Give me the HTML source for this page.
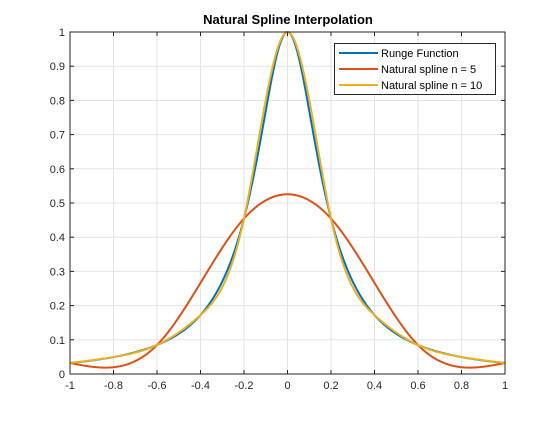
<!DOCTYPE html>
<html><head><meta charset="utf-8"><style>
body{margin:0;background:#fff;}
svg{font-family:"Liberation Sans",sans-serif;}
</style></head><body>
<svg id="chart" width="560" height="420">
<rect width="560" height="420" fill="#fff"/>
<g id="grid"></g><g id="series"></g><g id="axes"></g>
<text x="288" y="24" text-anchor="middle" font-size="13" font-weight="bold" fill="#000">Natural Spline Interpolation</text>
<g>
<rect x="334.5" y="43.5" width="161" height="51" fill="#fff" stroke="#262626" stroke-width="1"/>
<line x1="339" y1="53" x2="378" y2="53" stroke="#0072BD" stroke-width="2"/>
<text x="381" y="57" font-size="11" fill="#000">Runge Function</text>
<line x1="339" y1="69" x2="378" y2="69" stroke="#D95319" stroke-width="2"/>
<text x="381" y="73" font-size="11" fill="#000">Natural spline n = 5</text>
<line x1="339" y1="85" x2="378" y2="85" stroke="#EDB120" stroke-width="2"/>
<text x="381" y="89" font-size="11" fill="#000">Natural spline n = 10</text>
</g>
</svg>
<script>
const xTicks=[-1,-0.8,-0.6,-0.4,-0.2,0,0.2,0.4,0.6,0.8,1];
const xTickLabels=["-1","-0.8","-0.6","-0.4","-0.2","0","0.2","0.4","0.6","0.8","1"];
const yTicks=[0,0.1,0.2,0.3,0.4,0.5,0.6,0.7,0.8,0.9,1];
const yTickLabels=["0","0.1","0.2","0.3","0.4","0.5","0.6","0.7","0.8","0.9","1"];
const rungeX=[-1,-0.95,-0.9,-0.85,-0.8,-0.75,-0.7,-0.65,-0.6,-0.55,-0.5,-0.45,-0.4,-0.35,-0.3,-0.25,-0.2,-0.15,-0.1,-0.05,0,0.05,0.1,0.15,0.2,0.25,0.3,0.35,0.4,0.45,0.5,0.55,0.6,0.65,0.7,0.75,0.8,0.85,0.9,0.95,1];
const rungeY=[0.0323,0.0356,0.0395,0.0441,0.0495,0.0559,0.0637,0.0731,0.0847,0.0993,0.1176,0.1413,0.1724,0.2139,0.2703,0.3478,0.4545,0.5970,0.7692,0.9302,1,0.9302,0.7692,0.5970,0.4545,0.3478,0.2703,0.2139,0.1724,0.1413,0.1176,0.0993,0.0847,0.0731,0.0637,0.0559,0.0495,0.0441,0.0395,0.0356,0.0323];
const n5X=[-1,-0.6,-0.2,0.2,0.6,1];
const n5Y=[0.0323,0.0847,0.4545,0.4545,0.0847,0.0323];
const n10X=[-1,-0.8,-0.6,-0.4,-0.2,0,0.2,0.4,0.6,0.8,1];
const n10Y=[0.0323,0.0495,0.0847,0.1724,0.4545,1,0.4545,0.1724,0.0847,0.0495,0.0323];

const L=70,R=505,T=32,B=374;
const sx=v=>L+(v+1)/2*(R-L);
const sy=v=>B-v*(B-T);
const NS="http://www.w3.org/2000/svg";
function mk(tag,attrs,parent){const e=document.createElementNS(NS,tag);for(const k in attrs)e.setAttribute(k,attrs[k]);parent.appendChild(e);return e;}
const grid=document.getElementById('grid'),axes=document.getElementById('axes'),ser=document.getElementById('series');
mk('rect',{x:L,y:T,width:R-L,height:B-T,fill:'#fff'},grid);
xTicks.forEach((t,i)=>{
  const g=mk('line',{x1:sx(t),x2:sx(t),y1:T,y2:B,stroke:'#e3e3e3','stroke-width':1},grid);
  
  
  mk('line',{x1:sx(t),x2:sx(t),y1:B,y2:B-4,stroke:'#262626'},axes);
  mk('line',{x1:sx(t),x2:sx(t),y1:T,y2:T+4,stroke:'#262626'},axes);
  const tx=mk('text',{x:sx(t),y:B+15,'text-anchor':'middle','font-size':11,fill:'#262626'},axes);
  tx.textContent=xTickLabels[i];
  
  
});
yTicks.forEach((t,i)=>{
  const g=mk('line',{x1:L,x2:R,y1:sy(t),y2:sy(t),stroke:'#e3e3e3','stroke-width':1},grid);
  
  
  mk('line',{x1:L,x2:L+4,y1:sy(t),y2:sy(t),stroke:'#262626'},axes);
  mk('line',{x1:R,x2:R-4,y1:sy(t),y2:sy(t),stroke:'#262626'},axes);
  const tx=mk('text',{x:L-5,y:sy(t)+4,'text-anchor':'end','font-size':11,fill:'#262626'},axes);
  tx.textContent=yTickLabels[i];
  
  
});
const frame=mk('rect',{x:L,y:T,width:R-L,height:B-T,fill:'none',stroke:'#262626','stroke-width':1},axes);



function natSpline(xs,ys){
  const n=xs.length-1,h=[],a=[],l=[1],mu=[0],z=[0],c=new Array(n+1).fill(0),b=[],d=[];
  for(let i=0;i<n;i++)h.push(xs[i+1]-xs[i]);
  for(let i=1;i<n;i++)a[i]=3/h[i]*(ys[i+1]-ys[i])-3/h[i-1]*(ys[i]-ys[i-1]);
  for(let i=1;i<n;i++){l[i]=2*(xs[i+1]-xs[i-1])-h[i-1]*mu[i-1];mu[i]=h[i]/l[i];z[i]=(a[i]-h[i-1]*z[i-1])/l[i];}
  l[n]=1;z[n]=0;c[n]=0;
  for(let j=n-1;j>=0;j--){c[j]=z[j]-mu[j]*c[j+1];b[j]=(ys[j+1]-ys[j])/h[j]-h[j]*(c[j+1]+2*c[j])/3;d[j]=(c[j+1]-c[j])/(3*h[j]);}
  return x=>{let j=0;while(j<n-1&&x>xs[j+1])j++;const dx=x-xs[j];return ys[j]+b[j]*dx+c[j]*dx*dx+d[j]*dx*dx*dx;};
}
function draw(xs,ys,color,name){
  const f=natSpline(xs,ys);let p='';
  for(let k=0;k<=600;k++){const x=-1+2*k/600;p+=(k?'L':'M')+sx(x).toFixed(2)+','+sy(f(x)).toFixed(2);}
  const e=mk('path',{d:p,fill:'none',stroke:color,'stroke-width':2},ser);
  
  
}
draw(rungeX,rungeY,'#0072BD','runge-function-line');
draw(n5X,n5Y,'#D95319','natural-spline-n5-line');
draw(n10X,n10Y,'#EDB120','natural-spline-n10-line');
</script>
</body></html>
